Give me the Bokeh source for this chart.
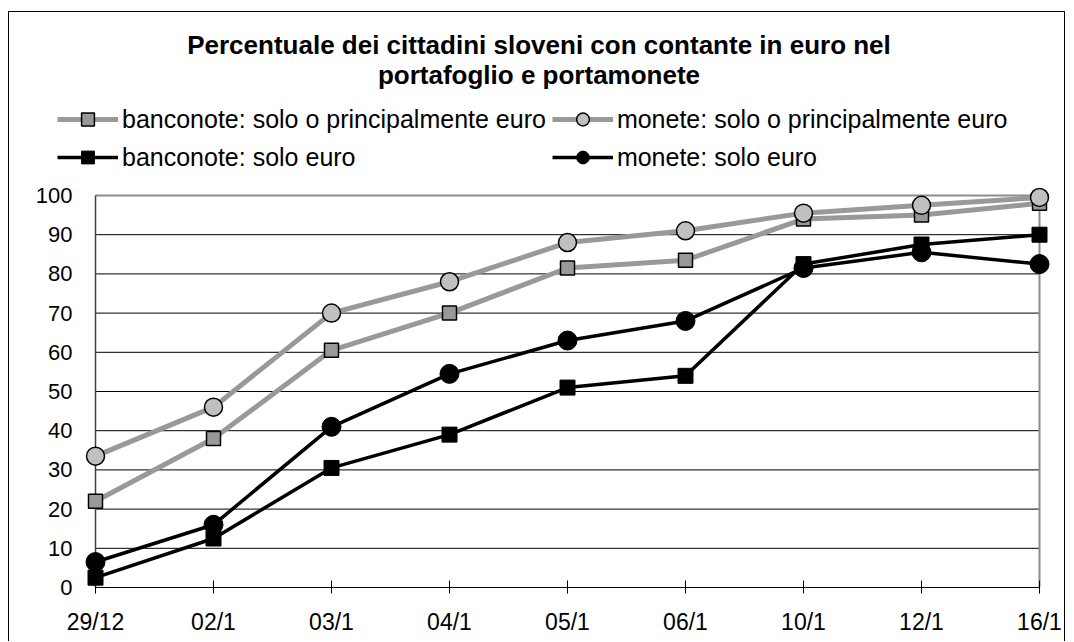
from bokeh.plotting import figure
from bokeh.models import Range1d, FixedTicker, Legend, LegendItem, Label
from bokeh.embed import file_html
from bokeh.resources import INLINE

# ---- data ----
dates = ["29/12", "02/1", "03/1", "04/1", "05/1", "06/1", "10/1", "12/1", "16/1"]
banconote_principalmente = [22, 38, 60.5, 70, 81.5, 83.5, 94, 95, 98]
monete_principalmente = [33.5, 46, 70, 78, 88, 91, 95.5, 97.5, 99.5]
banconote_solo = [2.5, 12.5, 30.5, 39, 51, 54, 82.5, 87.5, 90]
monete_solo = [6.5, 16, 41, 54.5, 63, 68, 81.5, 85.5, 82.5]
y_ticks = [0, 10, 20, 30, 40, 50, 60, 70, 80, 90, 100]
title_lines = ["Percentuale dei cittadini sloveni con contante in euro nel",
               "portafoglio e portamonete"]
series_labels = ["banconote: solo o principalmente euro",
                 "monete: solo o principalmente euro",
                 "banconote: solo euro",
                 "monete: solo euro"]

FONT = "Liberation Sans"
xs = list(range(len(dates)))
x_last = len(dates) - 1
y_top = y_ticks[-1]
PX_X = 118.0   # pixels per category step
PX_Y = 3.92    # pixels per percentage point

p = figure(width=1057, height=630, output_backend="svg", toolbar_location=None,
           x_range=Range1d(-50 / PX_X, x_last + 14 / PX_X),
           y_range=Range1d(0, y_top + 183 / PX_Y),
           min_border_left=36, min_border_right=13, min_border_top=0,
           min_border_bottom=55, title=None)
p.outline_line_color = None
p.background_fill_color = "white"
p.border_fill_color = "white"
p.xgrid.visible = False
p.ygrid.visible = False
p.styles = {"border-top": "1px solid #000000", "border-left": "1px solid #000000",
            "border-right": "1px solid #000000", "margin": "11px 0px 0px 8px"}

# gridlines and plot-area border
inner = y_ticks[1:-1]
p.segment(x0=[0] * len(inner), x1=[x_last] * len(inner), y0=inner, y1=inner,
          line_color="#000000", line_width=1)
p.line(x=[0, x_last, x_last], y=[y_top, y_top, 0], line_color="#8c8c8c", line_width=2)
p.line(x=[0, 0], y=[0, y_top], line_color="#404040", line_width=1.5)

# axes
xa = p.xaxis[0]
xa.ticker = FixedTicker(ticks=xs)
xa.major_label_overrides = {i: d for i, d in enumerate(dates)}
xa.bounds = (0, x_last)
xa.major_tick_in = 7
xa.major_tick_out = 6
xa.minor_tick_line_color = None
xa.axis_line_color = "#000000"
xa.major_tick_line_color = "#000000"
xa.major_label_standoff = 15
xa.major_label_text_font = FONT
xa.major_label_text_font_size = "23px"
xa.major_label_text_color = "#000000"

ya = p.yaxis[0]
ya.ticker = FixedTicker(ticks=y_ticks)
ya.bounds = (0, y_top)
ya.major_tick_in = 0
ya.major_tick_out = 0
ya.minor_tick_line_color = None
ya.axis_line_color = None
ya.major_tick_line_color = None
ya.major_label_standoff = -27
ya.major_label_text_font = FONT
ya.major_label_text_font_size = "22px"
ya.major_label_text_color = "#000000"

# series
GRAY = "#999999"
l1 = p.line(xs, banconote_principalmente, line_color=GRAY, line_width=5)
m1 = p.scatter(xs, banconote_principalmente, marker="square", size=14,
               fill_color=GRAY, line_color="#000000", line_width=1.5)
l2 = p.line(xs, monete_principalmente, line_color=GRAY, line_width=5)
m2 = p.scatter(xs, monete_principalmente, marker="circle", size=18,
               fill_color="#c0c0c0", line_color="#000000", line_width=1.5)
l3 = p.line(xs, banconote_solo, line_color="#000000", line_width=3.5)
m3 = p.scatter(xs, banconote_solo, marker="square", size=15,
               fill_color="#000000", line_color="#000000", line_width=1)
l4 = p.line(xs, monete_solo, line_color="#000000", line_width=3.5)
m4 = p.scatter(xs, monete_solo, marker="circle", size=19,
               fill_color="#000000", line_color="#000000", line_width=1)

legend = Legend(items=[
    LegendItem(label=series_labels[0], renderers=[l1, m1]),
    LegendItem(label=series_labels[2], renderers=[l3, m3]),
    LegendItem(label=series_labels[1], renderers=[l2, m2]),
    LegendItem(label=series_labels[3], renderers=[l4, m4]),
], location=(12, 414), orientation="vertical", ncols=2, padding=0, margin=0,
    spacing=6, glyph_width=61, glyph_height=32, label_height=28, label_standoff=4,
    label_text_font=FONT, label_text_font_size="25px", label_text_color="#000000",
    border_line_color=None, background_fill_alpha=0)
p.add_layout(legend)

for text, ypos in ((title_lines[0], 543), (title_lines[1], 513)):
    p.add_layout(Label(x=493.5, y=ypos, x_units="screen", y_units="screen", text=text,
                       text_align="center", text_baseline="alphabetic", text_font=FONT,
                       text_font_style="bold", text_font_size="26px",
                       text_color="#000000"))

open("out.html", "w").write(file_html(p, INLINE))
